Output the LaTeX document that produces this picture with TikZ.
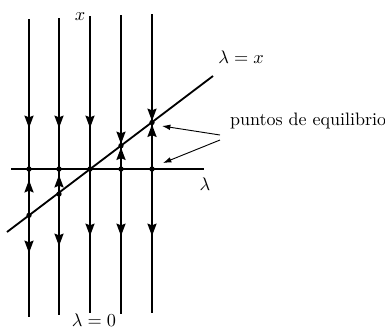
\documentclass[tikz,border=0pt]{standalone}
\usetikzlibrary{arrows.meta}
\begin{document}
\begin{tikzpicture}[x=0.6pt,y=-0.6pt,
  ln/.style={line width=1.25pt},
  dg/.style={line width=1.1pt},
  dot/.style={circle,fill=black,inner sep=0pt,minimum size=3.2pt},
  fl/.style={line width=1.25pt,-{Stealth[length=7.4pt,width=5.4pt,inset=1pt]}},
  lab/.style={inner sep=1pt,font=\fontsize{10.8}{12}\selectfont},
  pt/.style={line width=0.55pt,-{Latex[length=5pt,width=3.4pt]}}]
\useasboundingbox (0,0) rectangle (385,328);
% vertical lines
\coordinate (t1) at (29,19);  \coordinate (b1) at (29,317);
\coordinate (t2) at (59,18);  \coordinate (b2) at (59,315);
\coordinate (t3) at (90,16);  \coordinate (b3) at (90,313);
\coordinate (t4) at (121,15); \coordinate (b4) at (121,314);
\coordinate (t5) at (152,14); \coordinate (b5) at (152,313);
\foreach \i in {1,...,5} \draw[ln] (t\i) -- (b\i);
% horizontal axis
\coordinate (hl) at (11,169); \coordinate (hr) at (204,169);
\draw[ln] (hl) -- (hr);
% diagonal lambda = x
\coordinate (dl) at (7,232); \coordinate (dr) at (213,76);
\draw[dg] (dl) -- (dr);
% equilibrium dots
\node[dot] (a1) at (29,169) {};
\node[dot] (a2) at (59,169) {};
\node[dot] (a3) at (90,169) {};
\node[dot] (a4) at (121,169) {};
\node[dot] (a5) at (152,169) {};
\node[dot] (d1) at (29,215.3) {};
\node[dot] (d2) at (59,194) {};
\node[dot] (d4) at (121,145.7) {};
\node[dot] (d5) at (152,122.5) {};
% flow arrows
\foreach \x in {29,59,90} \draw[fl] (\x,112) -- (\x,128);
\draw[fl] (29,196) -- (29,180);
\draw[fl] (59,191) -- (59,175);
\draw[fl] (29,237) -- (29,253);
\draw[fl] (59,230) -- (59,246);
\foreach \x in {90,121,152} \draw[fl] (\x,220) -- (\x,236);
\draw[fl] (121,128) -- (121,144);
\draw[fl] (121,163) -- (121,147.5);
\draw[fl] (152,105) -- (152,121);
\draw[fl] (152,140) -- (152,124.5);
% labels
\node[lab] (lx) at (80,17) {$x$};
\node[lab] (lam) at (205,184) {$\lambda$};
\node[lab] (lamx) at (241,57) {$\lambda = x$};
\node[lab] (lam0) at (94,320.5) {$\lambda = 0$};
\node[lab,anchor=west] (pe) at (228,121) {puntos de equilibrio};
\coordinate (s1) at (220,135); \coordinate (s2) at (220,140);
\draw[pt] (s1) -- (162,126);
\draw[pt] (s2) -- (163,163);
\end{tikzpicture}
\end{document}
